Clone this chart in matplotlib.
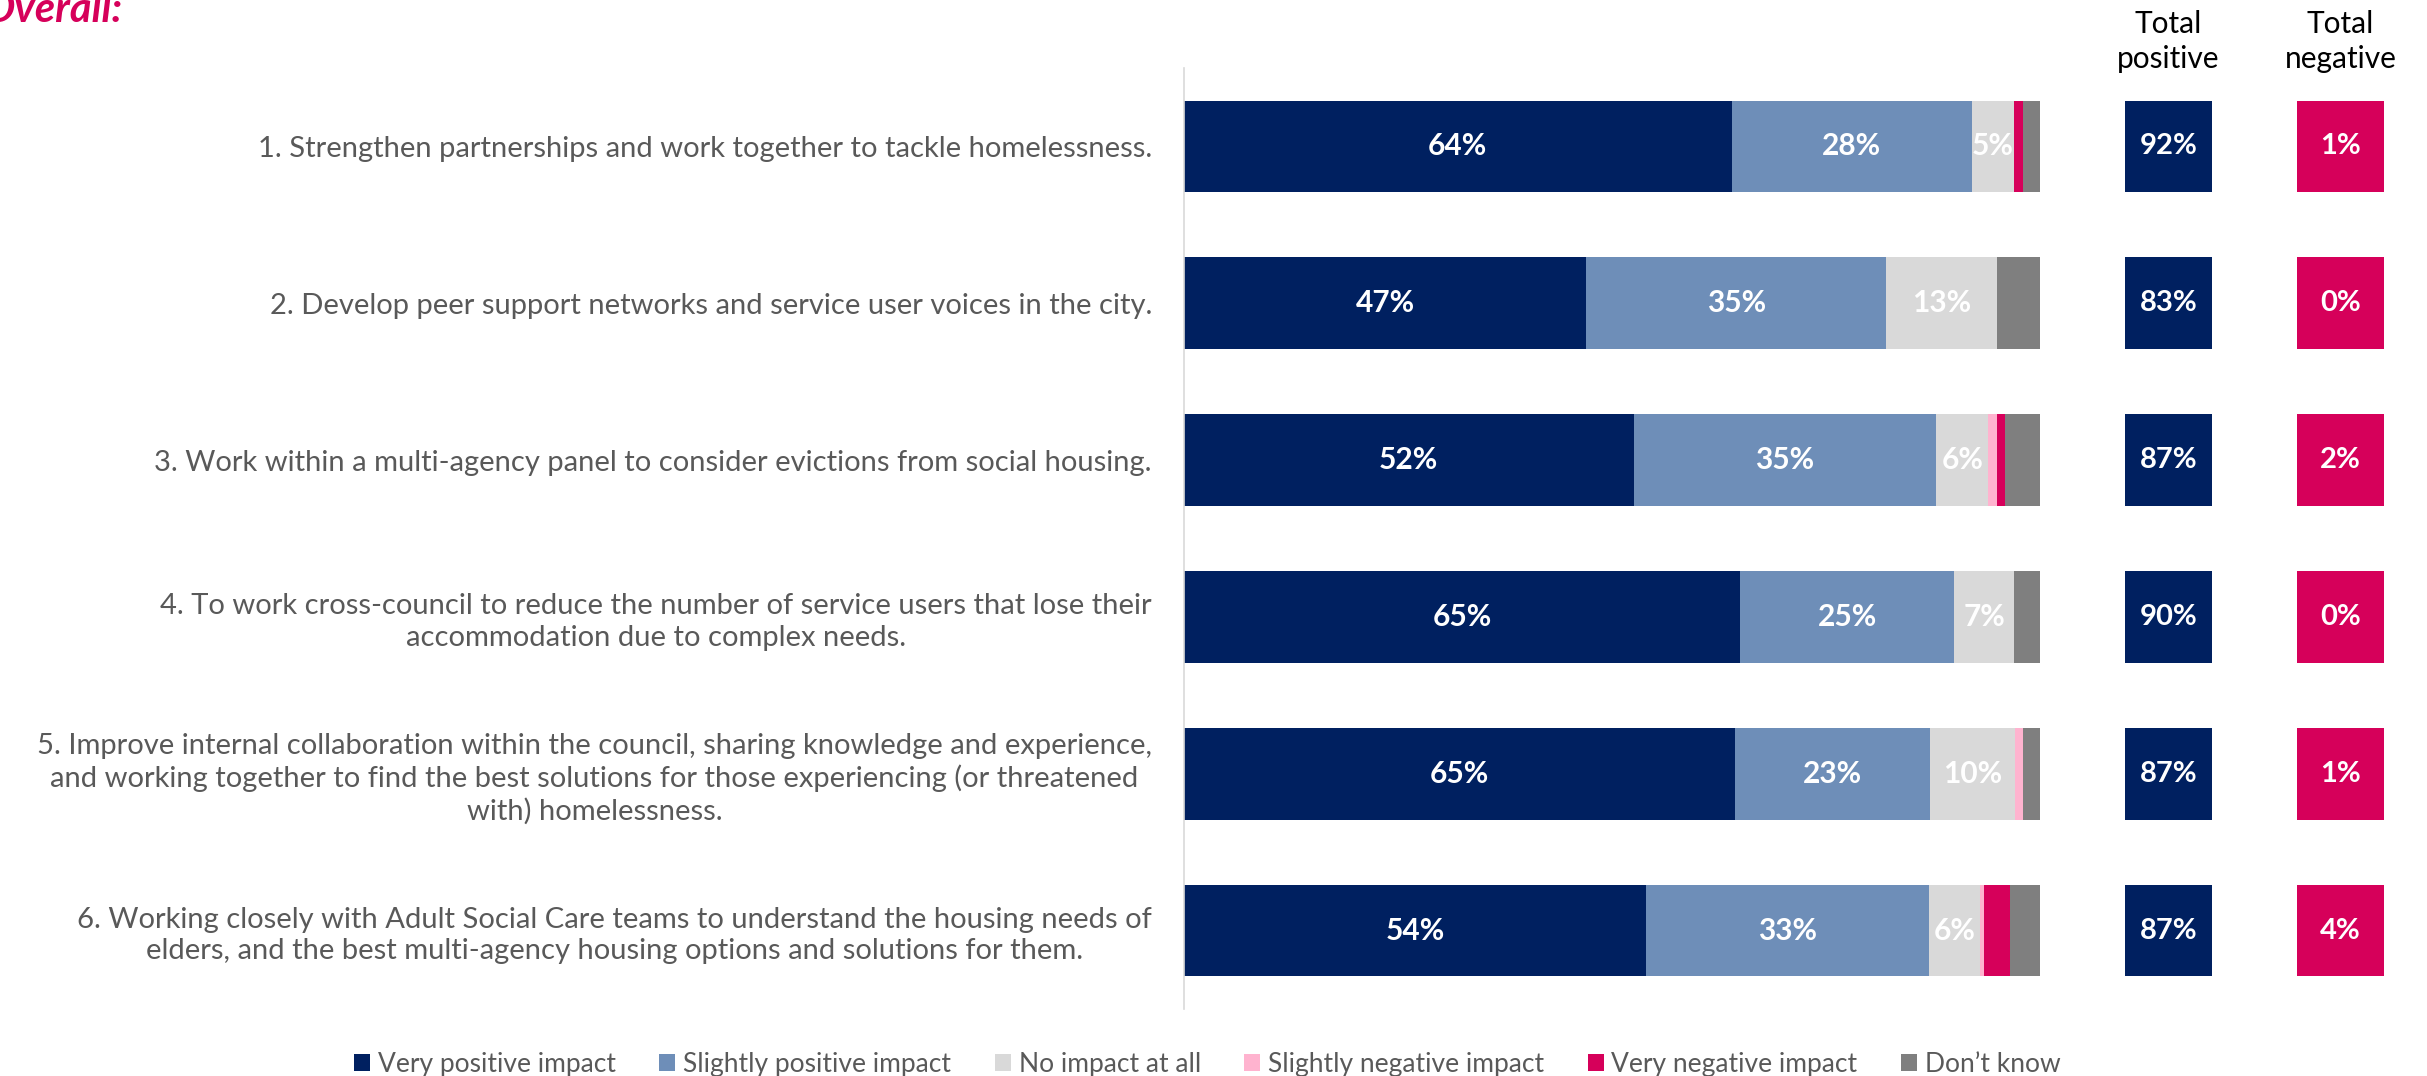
import matplotlib
matplotlib.use("Agg")
import matplotlib.pyplot as plt
import numpy as np

# ─── DATA ─────────────────────────────────────────────────────────────────────
statements = [
    "1. Strengthen partnerships and work together to tackle homelessness.",
    "2. Develop peer support networks and service user voices in the city.",
    "3. Work within a multi-agency panel to consider evictions from social housing.",
    "4. To work cross-council to reduce the number of service users that lose their\naccommodation due to complex needs.",
    "5. Improve internal collaboration within the council, sharing knowledge and experience,\nand working together to find the best solutions for those experiencing (or threatened\nwith) homelessness.",
    "6. Working closely with Adult Social Care teams to understand the housing needs of\nelders, and the best multi-agency housing options and solutions for them.",
]
series_names = ["Very positive impact", "Slightly positive impact", "No impact at all",
                "Slightly negative impact", "Very negative impact", "Don\u2019t know"]
very_positive = [64, 47, 52, 65, 65, 54]
slightly_positive = [28, 35, 35, 25, 23, 33]
no_impact = [5, 13, 6, 7, 10, 6]
slightly_negative = [0, 0, 1, 0, 1, 0.5]
very_negative = [1, 0, 1, 0, 0, 3]
dont_know = [2, 5, 4, 3, 2, 3.5]
total_positive = [92, 83, 87, 90, 87, 87]
total_negative = [1, 0, 2, 0, 1, 4]

colors = ["#002060", "#6E8EB8", "#D9D9D9", "#FFB3CF", "#D6005A", "#7F7F7F"]
TEXT_GREY = "#595959"
MAGENTA = "#D6005A"
NAVY = "#002060"

plt.rcParams["font.family"] = ["Lato", "DejaVu Sans"]

# ─── FIGURE ───────────────────────────────────────────────────────────────────
fig = plt.figure(figsize=(24.27, 10.76), dpi=100)
ax = fig.add_axes([0.4878, 0.0623, 0.5122, 0.8745])

series = np.array([very_positive, slightly_positive, no_impact,
                   slightly_negative, very_negative, dont_know], dtype=float)
# normalise each row to 100 (displayed values are rounded)
series = series / series.sum(axis=0) * 100
labels_raw = [very_positive, slightly_positive, no_impact]

y = np.arange(len(statements))
bar_h = 0.585
left = np.zeros(len(statements))
handles = []
for i, (name, col) in enumerate(zip(series_names, colors)):
    h = ax.barh(y, series[i], left=left, height=bar_h, color=col, linewidth=0, label=name)
    handles.append(h)
    if i < 3:
        for j in range(len(y)):
            v = labels_raw[i][j]
            if v >= 5:
                ax.text(left[j] + series[i][j] / 2, y[j], f"{v:.0f}%", ha="center", va="center",
                        color="white", fontsize=21.5, fontweight="bold")
    left += series[i]

# total boxes
box_w = 10.2
pos_x, neg_x = 109.9, 130.0
ax.barh(y, [box_w] * len(y), left=pos_x, height=bar_h, color=NAVY, linewidth=0)
ax.barh(y, [box_w] * len(y), left=neg_x, height=bar_h, color=MAGENTA, linewidth=0)
for j in range(len(y)):
    ax.text(pos_x + box_w / 2, y[j], f"{total_positive[j]}%", ha="center", va="center",
            color="white", fontsize=21, fontweight="bold")
    ax.text(neg_x + box_w / 2, y[j], f"{total_negative[j]}%", ha="center", va="center",
            color="white", fontsize=21, fontweight="bold")

ax.text(pos_x + box_w / 2, -0.47, "Total\npositive", ha="center", va="bottom",
        fontsize=21.5, color="black", linespacing=1.3, clip_on=False)
ax.text(neg_x + box_w / 2, -0.47, "Total\nnegative", ha="center", va="bottom",
        fontsize=21.5, color="black", linespacing=1.3, clip_on=False)

ax.set_xlim(0, 145.2)
ax.set_ylim(len(y) - 0.5, -0.5)
ax.set_xticks([])
ax.set_yticks(y)
ax.set_yticklabels(statements, fontsize=21, color=TEXT_GREY, multialignment="center",
                   linespacing=1.25)
ax.tick_params(axis="y", length=0, pad=23)
for s in ["top", "right", "bottom"]:
    ax.spines[s].set_visible(False)
ax.spines["left"].set_color("#D9D9D9")
ax.spines["left"].set_linewidth(1.2)

fig.text(-0.007, 0.980, "Overall:", color=MAGENTA, fontsize=30, fontweight="bold",
         fontstyle="italic", ha="left", va="baseline")

leg = fig.legend(handles=handles, loc="center", bbox_to_anchor=(0.4975, 0.011), ncol=6,
                 frameon=False, fontsize=19, handlelength=0.6, handleheight=0.6,
                 handletextpad=0.3, columnspacing=1.65)
for t in leg.get_texts():
    t.set_color(TEXT_GREY)

fig.savefig("out.png", dpi=100)
